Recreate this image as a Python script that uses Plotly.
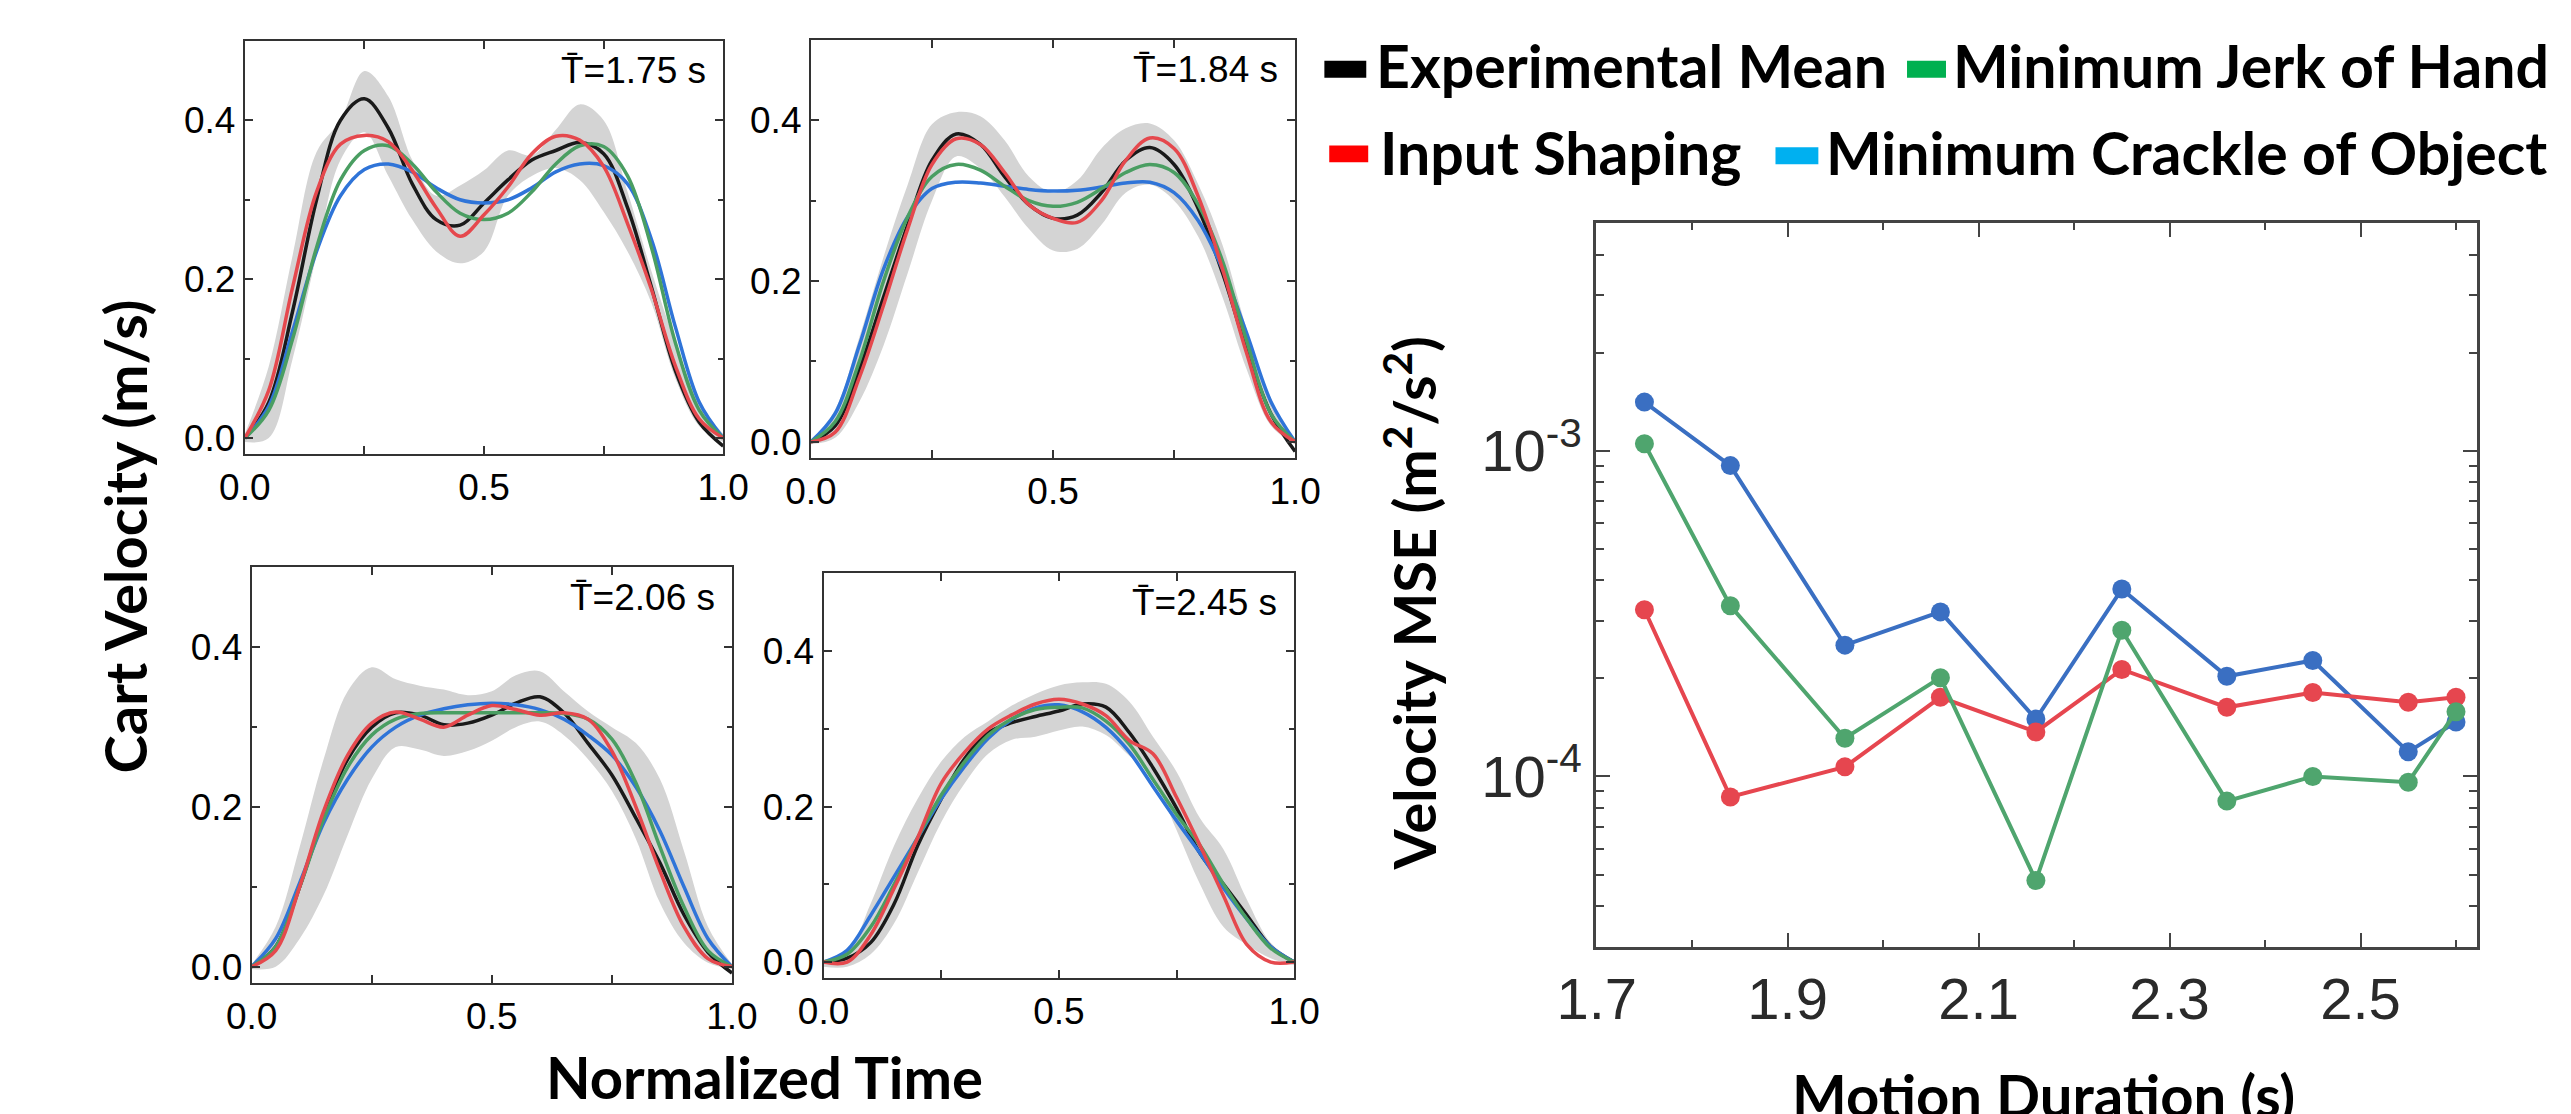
import plotly.graph_objects as go
import math

W, H = 2571, 1114

# ---------------- data ----------------
t_norm = [0.0, 0.05, 0.1, 0.15, 0.2, 0.25, 0.3, 0.35, 0.4, 0.45, 0.5,
          0.55, 0.6, 0.65, 0.7, 0.75, 0.8, 0.85, 0.9, 0.95, 1.0]

# T = 1.75 s
exp_175 = [0, 0.045, 0.16, 0.30, 0.40, 0.427, 0.39, 0.32, 0.275, 0.268, 0.296, 0.325, 0.35, 0.362, 0.372, 0.358, 0.29, 0.19, 0.085, 0.02, -0.01]
shp_175 = [0, 0.06, 0.19, 0.31, 0.37, 0.381, 0.373, 0.337, 0.29, 0.254, 0.281, 0.316, 0.358, 0.38, 0.375, 0.342, 0.27, 0.187, 0.091, 0.024, 0]
jrk_175 = [0, 0.035, 0.125, 0.24, 0.325, 0.362, 0.368, 0.345, 0.31, 0.283, 0.275, 0.283, 0.31, 0.345, 0.368, 0.367, 0.33, 0.24, 0.12, 0.035, 0]
crk_175 = [0, 0.04, 0.135, 0.235, 0.305, 0.338, 0.345, 0.335, 0.315, 0.3, 0.296, 0.3, 0.315, 0.335, 0.345, 0.343, 0.32, 0.25, 0.14, 0.045, 0]
hi_175 = [0.005, 0.09, 0.23, 0.36, 0.40, 0.462, 0.43, 0.35, 0.305, 0.318, 0.337, 0.362, 0.356, 0.388, 0.42, 0.40, 0.31, 0.21, 0.12, 0.045, 0.005]
lo_175 = [-0.005, 0.0, 0.1, 0.23, 0.35, 0.385, 0.33, 0.275, 0.235, 0.22, 0.235, 0.305, 0.33, 0.34, 0.325, 0.285, 0.235, 0.17, 0.075, 0.015, -0.005]

# T = 1.84 s
exp_184 = [0, 0.02, 0.09, 0.18, 0.27, 0.35, 0.383, 0.37, 0.33, 0.295, 0.278, 0.282, 0.31, 0.35, 0.366, 0.345, 0.29, 0.21, 0.115, 0.035, -0.012]
shp_184 = [0, 0.012, 0.08, 0.17, 0.265, 0.345, 0.377, 0.37, 0.335, 0.295, 0.278, 0.273, 0.3, 0.35, 0.378, 0.365, 0.305, 0.215, 0.11, 0.025, 0]
jrk_184 = [0, 0.025, 0.1, 0.2, 0.28, 0.33, 0.345, 0.338, 0.318, 0.3, 0.293, 0.298, 0.315, 0.335, 0.345, 0.335, 0.295, 0.225, 0.125, 0.035, 0]
crk_184 = [0, 0.035, 0.12, 0.215, 0.28, 0.315, 0.323, 0.322, 0.318, 0.314, 0.312, 0.313, 0.317, 0.322, 0.323, 0.31, 0.275, 0.215, 0.135, 0.05, 0]
hi_184 = [0.002, 0.04, 0.13, 0.23, 0.32, 0.395, 0.41, 0.405, 0.375, 0.33, 0.31, 0.325, 0.365, 0.39, 0.396, 0.375, 0.32, 0.245, 0.14, 0.05, 0.002]
lo_184 = [-0.003, 0.005, 0.05, 0.12, 0.21, 0.30, 0.355, 0.34, 0.305, 0.265, 0.238, 0.24, 0.27, 0.31, 0.32, 0.3, 0.255, 0.18, 0.09, 0.02, -0.003]

# T = 2.06 s
exp_206 = [0, 0.025, 0.1, 0.19, 0.26, 0.3, 0.318, 0.315, 0.303, 0.305, 0.315, 0.33, 0.338, 0.318, 0.28, 0.24, 0.186, 0.13, 0.065, 0.018, -0.008]
shp_206 = [0, 0.02, 0.1, 0.195, 0.265, 0.305, 0.319, 0.31, 0.3, 0.315, 0.327, 0.322, 0.315, 0.318, 0.31, 0.27, 0.2, 0.12, 0.05, 0.01, 0]
jrk_206 = [0, 0.025, 0.1, 0.185, 0.25, 0.29, 0.31, 0.317, 0.318, 0.318, 0.318, 0.318, 0.318, 0.317, 0.31, 0.285, 0.23, 0.15, 0.075, 0.02, 0]
crk_206 = [0, 0.035, 0.105, 0.18, 0.235, 0.275, 0.3, 0.315, 0.323, 0.328, 0.33, 0.328, 0.322, 0.31, 0.29, 0.265, 0.225, 0.17, 0.1, 0.035, 0]
hi_206 = [0.003, 0.05, 0.15, 0.26, 0.345, 0.375, 0.36, 0.352, 0.347, 0.34, 0.345, 0.365, 0.37, 0.345, 0.32, 0.3, 0.28, 0.235, 0.145, 0.05, 0.003]
lo_206 = [-0.003, 0.0, 0.035, 0.09, 0.165, 0.235, 0.275, 0.272, 0.264, 0.27, 0.283, 0.3, 0.307, 0.29, 0.26, 0.22, 0.16, 0.08, 0.03, 0.005, -0.003]

# T = 2.45 s
exp_245 = [0, 0.005, 0.025, 0.075, 0.15, 0.21, 0.262, 0.295, 0.308, 0.316, 0.323, 0.332, 0.328, 0.295, 0.25, 0.198, 0.14, 0.1, 0.06, 0.02, 0]
shp_245 = [0, 0.0, 0.035, 0.095, 0.16, 0.23, 0.27, 0.3, 0.318, 0.332, 0.338, 0.332, 0.317, 0.285, 0.268, 0.212, 0.15, 0.085, 0.022, 0.0, 0]
jrk_245 = [0, 0.01, 0.045, 0.1, 0.16, 0.215, 0.258, 0.292, 0.313, 0.325, 0.328, 0.327, 0.31, 0.28, 0.235, 0.19, 0.15, 0.1, 0.055, 0.018, 0]
crk_245 = [0, 0.015, 0.06, 0.11, 0.16, 0.21, 0.252, 0.288, 0.312, 0.327, 0.331, 0.322, 0.302, 0.27, 0.226, 0.182, 0.14, 0.095, 0.055, 0.02, 0]
hi_245 = [0.003, 0.013, 0.075, 0.15, 0.21, 0.258, 0.29, 0.31, 0.33, 0.345, 0.356, 0.36, 0.358, 0.335, 0.29, 0.245, 0.185, 0.145, 0.08, 0.025, 0.003]
lo_245 = [-0.006, -0.006, 0.01, 0.05, 0.115, 0.18, 0.23, 0.268, 0.286, 0.29, 0.298, 0.303, 0.292, 0.265, 0.236, 0.17, 0.1, 0.045, 0.022, 0.005, -0.004]

panel_labels = ["T\u0304=1.75 s", "T\u0304=1.84 s", "T\u0304=2.06 s", "T\u0304=2.45 s"]

# Velocity MSE vs motion duration
durations = [1.75, 1.84, 1.96, 2.06, 2.16, 2.25, 2.36, 2.45, 2.55, 2.60]
mse_crackle = [1.41e-3, 9.0e-4, 2.53e-4, 3.2e-4, 1.50e-4, 3.76e-4, 2.03e-4, 2.27e-4, 1.19e-4, 1.47e-4]
mse_jerk = [1.05e-3, 3.34e-4, 1.31e-4, 2.01e-4, 4.79e-5, 2.81e-4, 8.4e-5, 1.0e-4, 9.6e-5, 1.58e-4]
mse_shaping = [3.25e-4, 8.65e-5, 1.07e-4, 1.75e-4, 1.37e-4, 2.13e-4, 1.63e-4, 1.81e-4, 1.69e-4, 1.75e-4]

legend_names = ["Experimental Mean", "Minimum Jerk of Hand", "Input Shaping", "Minimum Crackle of Object"]
mse_xticks = [1.7, 1.9, 2.1, 2.3, 2.5]
mse_yticks = [1e-4, 1e-3]
mse_yticktext = ["10<sup>-4</sup>", "10<sup>-3</sup>"]
mse_yminor = [3e-5, 4e-5, 5e-5, 6e-5, 7e-5, 8e-5, 9e-5,
              2e-4, 3e-4, 4e-4, 5e-4, 6e-4, 7e-4, 8e-4, 9e-4,
              2e-3, 3e-3, 4e-3, 5e-3]

# ---------------- style ----------------
C_BLACK = "#1a1a1a"
C_RED = "#e5484d"
C_GREEN = "#4a9e62"
C_BLUE = "#2f74d8"
C_BAND = "#d4d4d4"
M_BLUE = "#3a6fc2"
M_GREEN = "#4fa56e"
M_RED = "#e6464f"
TICKFONT = "Liberation Sans, Arial, sans-serif"
TITLEFONT = "Lato, Carlito, Open Sans, sans-serif"

# panel frames in pixels (x0, x1, y0top, y1bottom)
frames = [(202, 693, 33, 448), (783, 1280, 32, 452), (209, 702, 562, 979), (796, 1279, 568, 974)]
mse_frame = (1589, 2493, 216, 943)

def xd(a, b):
    return [a / W, b / W]

def yd(top, bot):
    return [1 - bot / H, 1 - top / H]

fig = go.Figure()

panels = [
    (exp_175, shp_175, jrk_175, crk_175, hi_175, lo_175),
    (exp_184, shp_184, jrk_184, crk_184, hi_184, lo_184),
    (exp_206, shp_206, jrk_206, crk_206, hi_206, lo_206),
    (exp_245, shp_245, jrk_245, crk_245, hi_245, lo_245),
]

LW = 3.5
layout_axes = {}
annotations = []
for i, (ex, sh, jk, ck, hi, lo) in enumerate(panels):
    n = i + 1
    sfx = "" if n == 1 else str(n)
    xa, ya = f"x{sfx}", f"y{sfx}"
    common = dict(xaxis=xa, yaxis=ya, mode="lines", showlegend=False, hoverinfo="skip")
    fig.add_trace(go.Scatter(x=t_norm, y=lo, line=dict(width=0, shape="spline", color=C_BAND), **common))
    fig.add_trace(go.Scatter(x=t_norm, y=hi, line=dict(width=0, shape="spline", color=C_BAND),
                             fill="tonexty", fillcolor=C_BAND, **common))
    fig.add_trace(go.Scatter(x=t_norm, y=ex, line=dict(width=LW, shape="spline", color=C_BLACK), **common))
    fig.add_trace(go.Scatter(x=t_norm, y=ck, line=dict(width=LW, shape="spline", color=C_BLUE), **common))
    fig.add_trace(go.Scatter(x=t_norm, y=jk, line=dict(width=LW, shape="spline", color=C_GREEN), **common))
    fig.add_trace(go.Scatter(x=t_norm, y=sh, line=dict(width=LW, shape="spline", color=C_RED), **common))

    x0, x1, y0, y1 = frames[i]
    axbase = dict(showline=True, linecolor="#333", linewidth=2, mirror="ticks",
                  ticks="inside", ticklen=8, tickwidth=2, tickcolor="#333",
                  showgrid=False, zeroline=False, tickformat=".1f",
                  tickfont=dict(family=TICKFONT, size=37, color="black"))
    layout_axes[f"xaxis{sfx}"] = dict(
        axbase, domain=xd(x0, x1), anchor=ya, range=[0, 1], tick0=0, dtick=0.5,
        minor=dict(ticks="inside", ticklen=8, tickwidth=2, tickcolor="#333", dtick=0.25, tick0=0))
    layout_axes[f"yaxis{sfx}"] = dict(
        axbase, domain=yd(y0, y1), anchor=xa, range=[-0.02, 0.5], tick0=0, dtick=0.2,
        minor=dict(ticks="inside", ticklen=5, tickwidth=2, tickcolor="#333", dtick=0.1, tick0=0))
    annotations.append(dict(text=panel_labels[i], xref=f"{xa} domain", yref=f"{ya} domain",
                            x=0.968, y=0.928, xanchor="right", yanchor="middle", showarrow=False,
                            font=dict(family=TICKFONT, size=37, color="black")))

# MSE panel
for vals, col in [(mse_crackle, M_BLUE), (mse_shaping, M_RED), (mse_jerk, M_GREEN)]:
    fig.add_trace(go.Scatter(x=durations, y=vals, xaxis="x5", yaxis="y5", mode="lines+markers",
                             line=dict(color=col, width=4), marker=dict(size=19, color=col),
                             showlegend=False))

mx0, mx1, my0, my1 = mse_frame
layout_axes["xaxis5"] = dict(domain=xd(mx0, mx1), anchor="y5", range=[1.6995, 2.622],
                             tickvals=mse_xticks, tickformat=".1f",
                             showline=True, linecolor="#444", linewidth=2.5, mirror="ticks",
                             ticks="inside", ticklen=14, tickwidth=2, tickcolor="#444",
                             minor=dict(ticks="inside", ticklen=7, tickwidth=2, tickcolor="#444", dtick=0.1, tick0=1.7),
                             showgrid=False, zeroline=False,
                             tickfont=dict(family=TICKFONT, size=58, color="#2a2a2a"))
layout_axes["yaxis5"] = dict(domain=yd(my0, my1), anchor="x5", type="log",
                             range=[math.log10(3e-5), math.log10(5e-3)],
                             tickvals=mse_yticks, ticktext=mse_yticktext,
                             showline=True, linecolor="#444", linewidth=2.5, mirror="ticks",
                             ticks="inside", ticklen=14, tickwidth=2, tickcolor="#444",
                             minor=dict(ticks="inside", ticklen=8, tickwidth=2, tickcolor="#444", tickvals=mse_yminor),
                             showgrid=False, zeroline=False,
                             tickfont=dict(family=TICKFONT, size=58, color="#2a2a2a"))

# axis titles
tfont = dict(family=TITLEFONT, size=58, color="black")
titles = [
    dict(text="<b>Cart Velocity (m/s)</b>", x=79 / W, y=1 - 531 / H, textangle=-90),
    dict(text="<b>Normalized Time</b>", x=735 / W, y=1 - 1073 / H),
    dict(text="<b>Velocity MSE (m<sup>2</sup>/s<sup>2</sup>)</b>", x=1398 / W, y=1 - 598 / H, textangle=-90),
    dict(text="<b>Motion Duration (s)</b>", x=2048 / W, y=1 - 1091 / H),
]
for a in titles:
    a.update(xref="paper", yref="paper", xanchor="center", yanchor="middle", showarrow=False, font=tfont)
annotations += titles

# legend (patches + labels)
lfont = dict(family=TITLEFONT, size=59, color="black")
legend_items = [
    (legend_names[0], "#000000", (1310, 1353, 53, 70), (1361, 58)),
    (legend_names[1], "#00b050", (1908, 1948, 53, 70), (1953, 58)),
    (legend_names[2], "#ff0000", (1315, 1355, 138, 155), (1365, 145)),
    (legend_names[3], "#00b0f0", (1773, 1817, 140, 157), (1823, 145)),
]
shapes = []
for name, col, (px0, px1, py0, py1), (tx, ty) in legend_items:
    shapes.append(dict(type="rect", xref="paper", yref="paper", x0=px0 / W, x1=px1 / W,
                       y0=1 - py1 / H, y1=1 - py0 / H, fillcolor=col, line=dict(width=0)))
    annotations.append(dict(text=f"<b>{name}</b>", xref="paper", yref="paper", x=tx / W, y=1 - ty / H,
                            xanchor="left", yanchor="middle", showarrow=False, font=lfont))

fig.update_layout(width=W, height=H, margin=dict(l=0, r=0, t=0, b=0),
                  paper_bgcolor="white", plot_bgcolor="white",
                  annotations=annotations, shapes=shapes, **layout_axes)

fig.write_html("out.html")
